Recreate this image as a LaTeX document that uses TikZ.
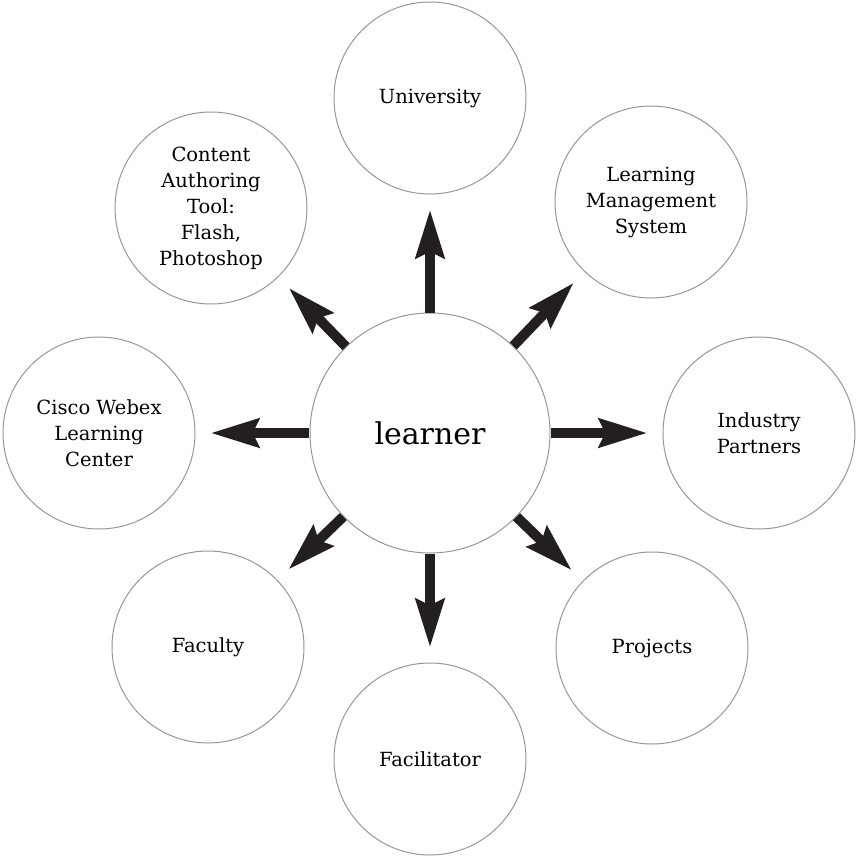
\documentclass[tikz,border=0pt]{standalone}
\usepackage{fontspec}
\setmainfont{DejaVu Serif}
\usepackage{tikz}
\usetikzlibrary{arrows.meta,positioning}
\definecolor{ringgray}{RGB}{150,150,150}
\definecolor{arrowblack}{RGB}{35,31,32}
\tikzstyle{hub} = [circle,draw=ringgray,line width=1pt,minimum size=240pt,inner sep=0pt,font=\fontsize{30}{34}\selectfont]
\tikzstyle{sat} = [circle,draw=ringgray,line width=1pt,minimum size=192pt,inner sep=0pt,align=center,font=\fontsize{19.5}{26}\selectfont]
\tikzstyle{spoke} = [line width=10pt,color=arrowblack,-{Stealth[length=48pt,width=28pt,inset=6pt]},shorten >=15pt]

\begin{document}
\begin{tikzpicture}[x=1pt,y=1pt]
\useasboundingbox (-430,-422) rectangle (426,433);

% Hub
\node[hub] (learner) at (0,0) {learner};

% Outer circles
\node[sat] (university) at (0,335) {University};
\node[sat] (lms) at (221,231) {Learning\\Management\\System};
\node[sat] (industry) at (329,0) {Industry\\Partners};
\node[sat] (projects) at (222,-215) {Projects};
\node[sat] (facilitator) at (0,-326) {Facilitator};
\node[sat] (faculty) at (-222,-214) {Faculty};
\node[sat] (cisco) at (-331,0) {Cisco Webex\\Learning\\Center};
\node[sat] (authoring) at (-219,225) {Content\\Authoring\\Tool:\\Flash,\\Photoshop};

% Arrows
\foreach \n in {university,lms,industry,projects,facilitator,faculty,cisco,authoring}
  \draw[spoke] (learner) -- (\n);
\end{tikzpicture}
\end{document}
